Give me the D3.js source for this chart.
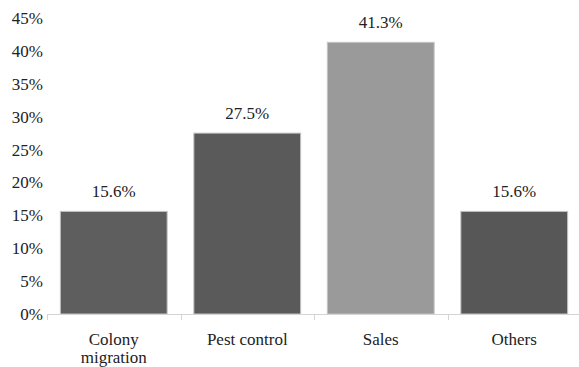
<!DOCTYPE html>
<html>
<head>
<meta charset="utf-8">
<script src="https://cdn.jsdelivr.net/npm/d3@7"></script>
<style>
  html, body { margin: 0; padding: 0; background: #fff; }
  svg { display: block; }
</style>
</head>
<body>
<svg id="chart" width="579" height="367"></svg>
<script>
// Share of each activity (%)
const categories = ["Colony migration", "Pest control", "Sales", "Others"];
const values = [15.6, 27.5, 41.3, 15.6];
const valueLabels = ["15.6%", "27.5%", "41.3%", "15.6%"];
const barColors = ["#5e5e5e", "#5a5a5a", "#9a9a9a", "#575757"];
const yTicks = [0, 5, 10, 15, 20, 25, 30, 35, 40, 45];

(function draw() {
  const svg = d3.select("#chart");
  const plotLeft = 47, plotRight = 581, plotTop = 18, plotBottom = 314;
  const font = '"Times New Roman", "Liberation Serif", Tinos, Times, serif';
  const fontSize = "17px";
  const ink = "#222";

  const x = d3.scaleBand().domain(categories).range([plotLeft, plotRight]).paddingInner(0.2).paddingOuter(0.1);
  const y = d3.scaleLinear().domain([0, 45]).range([plotBottom, plotTop]);

  // y-axis labels (no axis line)
  const yAxis = d3.axisLeft(y).tickValues(yTicks).tickFormat(d => d + "%").tickSize(0).tickPadding(4);
  const gy = svg.append("g").attr("transform", `translate(${plotLeft},0)`).call(yAxis);
  gy.select(".domain").remove();
  gy.selectAll("text").style("font-family", font).style("font-size", fontSize).attr("fill", ink);

  // bars
  svg.append("g").selectAll("rect").data(values).join("rect")
    .attr("x", (d, i) => x(categories[i]))
    .attr("y", d => y(d))
    .attr("width", x.bandwidth())
    .attr("height", d => y(0) - y(d))
    .attr("fill", (d, i) => barColors[i])
    .attr("stroke", "#c4c4c4")
    .attr("stroke-width", 1);

  // x-axis baseline with tick marks at category boundaries
  const step = x.step();
  const gx = svg.append("g");
  gx.append("line").attr("x1", plotLeft).attr("x2", plotRight).attr("y1", plotBottom + 0.5).attr("y2", plotBottom + 0.5)
    .attr("stroke", "#d4d4d4").attr("stroke-width", 1);
  const boundaries = d3.range(categories.length).map(i => plotLeft + i * step);
  gx.selectAll("line.tick").data(boundaries).join("line").attr("class", "tick")
    .attr("x1", d => Math.round(d) + 0.5).attr("x2", d => Math.round(d) + 0.5)
    .attr("y1", plotBottom).attr("y2", plotBottom + 6)
    .attr("stroke", "#d4d4d4").attr("stroke-width", 1);

  // category labels (wrapped onto two lines where needed)
  const catLines = [["Colony", "migration"], ["Pest control"], ["Sales"], ["Others"]];
  const cl = svg.append("g").selectAll("text").data(categories).join("text")
    .attr("x", d => x(d) + x.bandwidth() / 2)
    .attr("y", plotBottom + 31)
    .attr("text-anchor", "middle")
    .style("font-family", font).style("font-size", fontSize)
    .attr("fill", ink);
  cl.each(function(d, i) {
    d3.select(this).selectAll("tspan").data(catLines[i]).join("tspan")
      .attr("x", x(d) + x.bandwidth() / 2)
      .attr("dy", (t, j) => j === 0 ? 0 : 18)
      .text(t => t);
  });

  // value labels above bars
  svg.append("g").selectAll("text").data(values).join("text")
    .attr("x", (d, i) => x(categories[i]) + x.bandwidth() / 2)
    .attr("y", d => y(d) - 14)
    .attr("text-anchor", "middle")
    .style("font-family", font).style("font-size", fontSize)
    .attr("fill", ink)
    .text((d, i) => valueLabels[i]);
})();
</script>
</body>
</html>
